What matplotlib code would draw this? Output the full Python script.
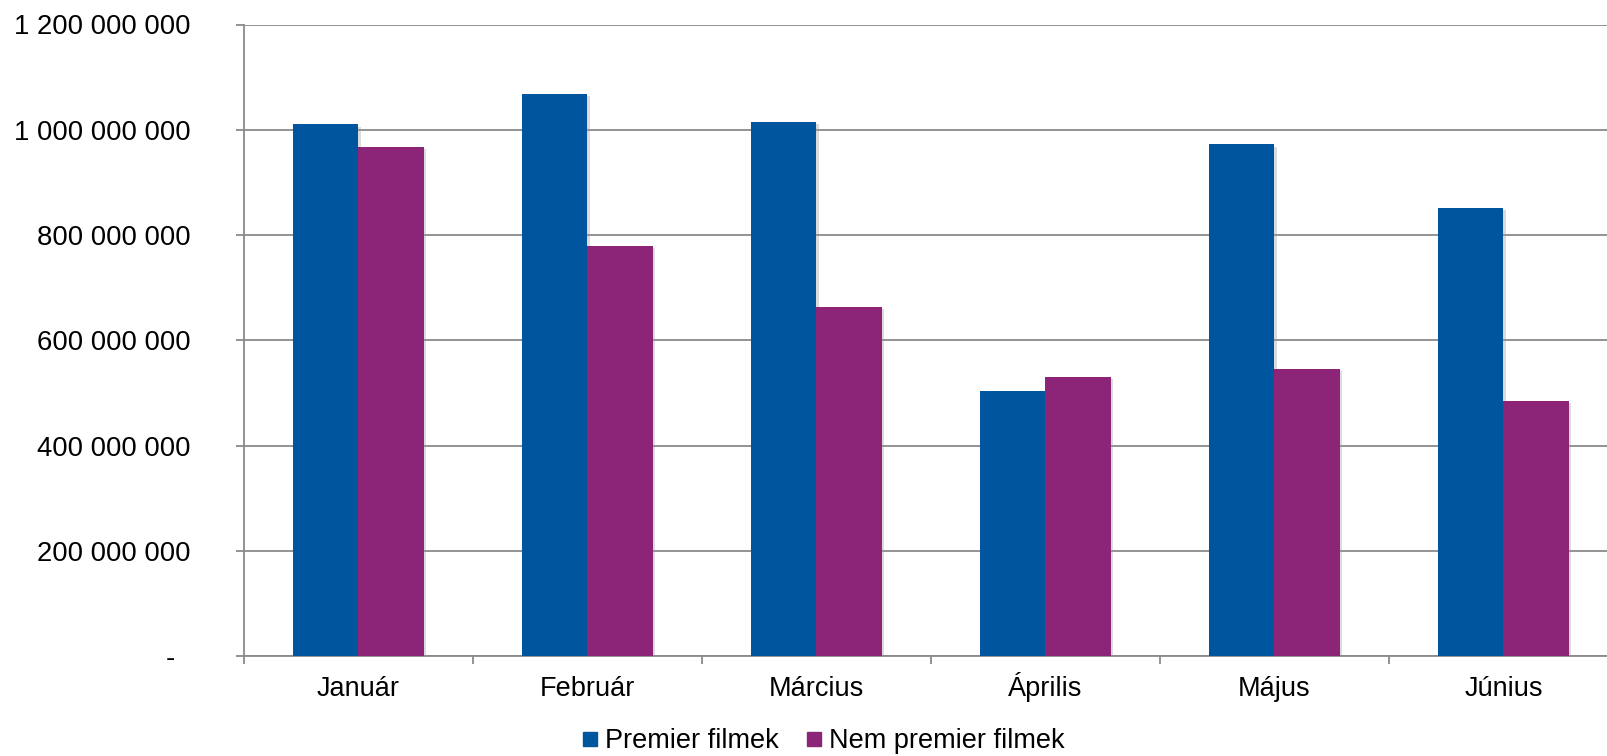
import matplotlib.pyplot as plt
import matplotlib.patheffects as pe
from matplotlib.lines import Line2D
from matplotlib.ticker import FuncFormatter, FixedLocator
import numpy as np

plt.rcParams['font.family'] = ['Liberation Sans', 'DejaVu Sans']

months = ["Január", "Február", "Március", "Április", "Május", "Június"]
premier = [1010e6, 1068e6, 1015e6, 504e6, 972e6, 852e6]
nem_premier = [968e6, 779e6, 664e6, 530e6, 545e6, 485e6]
series_names = ["Premier filmek", "Nem premier filmek"]

blue = "#00559F"
purple = "#8C2577"
grid_c = "#8A8A8A"

fig = plt.figure(figsize=(16.08, 7.56), dpi=100)
ax = fig.add_axes([244/1608, 100/756, 1374/1608, 631.5/756])

x = np.arange(len(months))
w = 0.284
shadow = [pe.SimplePatchShadow(offset=(2, -1.5), shadow_rgbFace='#999999', alpha=0.35), pe.Normal()]
ax.bar(x - w/2, premier, width=w, color=blue, zorder=3, path_effects=shadow)
ax.bar(x + w/2, nem_premier, width=w, color=purple, zorder=3, path_effects=shadow)

ax.set_xlim(-0.5, len(months) - 0.5)
ax.set_ylim(0, 1200e6)
ax.set_yticks(np.arange(0, 1200e6 + 1, 200e6))

def fmt(v, pos):
    if v == 0:
        return "-  "
    return f"{int(round(v)):,}".replace(",", " ")

ax.yaxis.set_major_formatter(FuncFormatter(fmt))
ax.grid(axis='y', color=grid_c, linewidth=1.3, zorder=0)
ax.set_axisbelow(True)

ax.set_xticks(x)
ax.set_xticklabels(months, va='baseline')
ax.xaxis.set_minor_locator(FixedLocator(np.arange(-0.5, len(months), 1.0)))
ax.tick_params(axis='x', which='major', length=0, pad=29, labelsize=19.5)
ax.tick_params(axis='x', which='minor', length=6, width=1.3, color=grid_c, direction='out')
ax.tick_params(axis='y', length=6, width=1.3, color=grid_c, pad=32.5, labelsize=19.8)

for s in ['top', 'right']:
    ax.spines[s].set_visible(False)
for s in ['left', 'bottom']:
    ax.spines[s].set_color(grid_c)
    ax.spines[s].set_linewidth(1.3)

handles = [Line2D([], [], marker='s', linestyle='none', markersize=10, color=c) for c in (blue, purple)]
fig.legend(handles, series_names, loc='center', bbox_to_anchor=(823/1608, 1 - 741/756),
           ncol=2, frameon=False, fontsize=19.5, handlelength=0.6, handletextpad=0.25,
           columnspacing=1.0, borderpad=0)

fig.savefig("out.png", dpi=100)
plt.close()
